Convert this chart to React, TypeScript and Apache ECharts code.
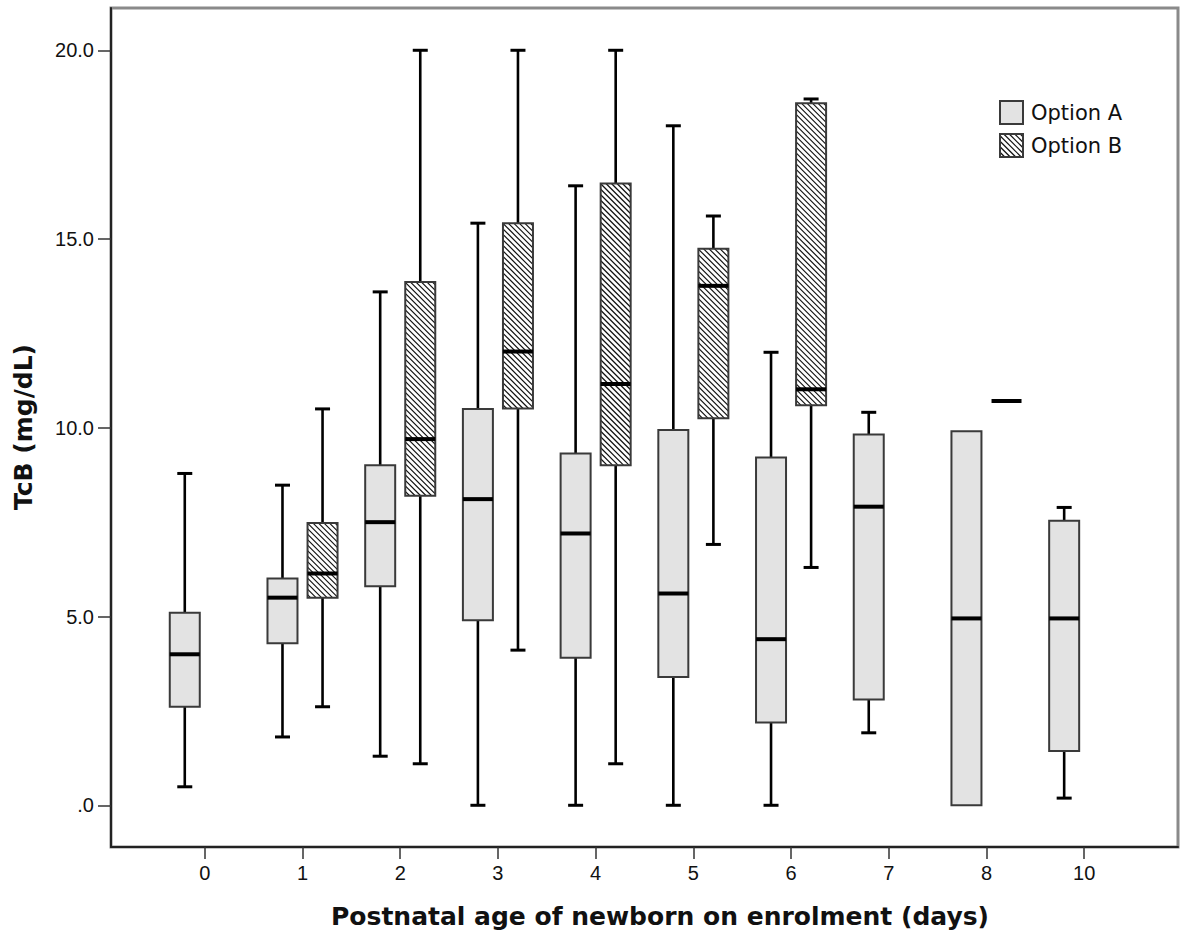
import React, { useEffect, useRef } from "react";
import * as echarts from "echarts";

// ---- data ----
const categories = ["0", "1", "2", "3", "4", "5", "6", "7", "8", "10"];
const seriesNames = ["Option A", "Option B"];
// [min whisker, Q1, median, Q3, max whisker]; null = no box
const optionA: (number[] | null)[] = [
  [0.49, 2.61, 4.0, 5.1, 8.79],
  [1.81, 4.29, 5.5, 6.01, 8.48],
  [1.3, 5.8, 7.5, 9.01, 13.6],
  [0.0, 4.9, 8.11, 10.5, 15.42],
  [0.0, 3.91, 7.2, 9.32, 16.41],
  [0.0, 3.4, 5.61, 9.94, 18.0],
  [0.0, 2.19, 4.4, 9.21, 12.0],
  [1.92, 2.8, 7.91, 9.82, 10.41],
  [0.0, 0.0, 4.95, 9.91, 9.91],
  [0.19, 1.44, 4.95, 7.54, 7.89],
];
const optionB: (number[] | null)[] = [
  null,
  [2.61, 5.5, 6.14, 7.48, 10.5],
  [1.1, 8.2, 9.7, 13.86, 20.0],
  [4.11, 10.51, 12.02, 15.42, 20.0],
  [1.1, 9.01, 11.16, 16.47, 20.0],
  [6.91, 10.25, 13.76, 14.74, 15.61],
  [6.3, 10.6, 11.02, 18.6, 18.71],
  null,
  [10.71, 10.71, 10.71, 10.71, 10.71],
  null,
];
const yTicks = [0, 5, 10, 15, 20];
const xTitle = "Postnatal age of newborn on enrolment (days)";
const yTitle = "TcB (mg/dL)";

const BOX_HALF = 15;
const CAP_HALF = 7.5;
const HATCH_STEP = 5.5;
const FILL_A = "#e3e3e3";
const BOX_STROKE = "#3a3a3a";

function hatchLines(x0: number, y0: number, w: number, h: number) {
  const out: any[] = [];
  // lines y - x = c (down-right diagonal)
  const cMin = y0 - (x0 + w);
  const cMax = y0 + h - x0;
  for (let c = cMin + HATCH_STEP / 2; c < cMax; c += HATCH_STEP) {
    const xa = Math.max(x0, y0 - c);
    const xb = Math.min(x0 + w, y0 + h - c);
    if (xb - xa > 0.3) {
      out.push({
        type: "line",
        shape: { x1: xa, y1: xa + c, x2: xb, y2: xb + c },
        style: { stroke: "#111", lineWidth: 1.2 },
        silent: true,
      });
    }
  }
  return out;
}

function toData(arr: (number[] | null)[]) {
  const d: any[] = [];
  arr.forEach((v, i) => {
    if (v) d.push([i, ...v]);
  });
  return d;
}

function makeRenderItem(offset: number, hatched: boolean) {
  return (params: any, api: any) => {
    const x = api.value(0) + offset;
    const vals = [1, 2, 3, 4, 5].map((k) => api.value(k));
    const ys = vals.map((v) => api.coord([x, v])[1]);
    const cx = api.coord([x, vals[2]])[0];
    const [yMin, yQ1, yMed, yQ3, yMax] = ys;
    const children: any[] = [];
    const wStyle = { stroke: "#000", lineWidth: 2.6 };
    if (vals[4] > vals[3]) {
      children.push({ type: "line", shape: { x1: cx, y1: yQ3, x2: cx, y2: yMax }, style: wStyle });
      children.push({ type: "line", shape: { x1: cx - CAP_HALF, y1: yMax, x2: cx + CAP_HALF, y2: yMax }, style: { stroke: "#000", lineWidth: 3 } });
    }
    if (vals[0] < vals[1]) {
      children.push({ type: "line", shape: { x1: cx, y1: yQ1, x2: cx, y2: yMin }, style: wStyle });
      children.push({ type: "line", shape: { x1: cx - CAP_HALF, y1: yMin, x2: cx + CAP_HALF, y2: yMin }, style: { stroke: "#000", lineWidth: 3 } });
    }
    const h = yQ1 - yQ3;
    if (h > 0.5) {
      const rx = cx - BOX_HALF;
      children.push({
        type: "rect",
        shape: { x: rx, y: yQ3, width: BOX_HALF * 2, height: h },
        style: { fill: hatched ? "#fff" : FILL_A, stroke: "none" },
      });
      if (hatched) children.push(...hatchLines(rx, yQ3, BOX_HALF * 2, h));
      children.push({
        type: "rect",
        shape: { x: rx, y: yQ3, width: BOX_HALF * 2, height: h },
        style: { fill: "none", stroke: BOX_STROKE, lineWidth: 2 },
      });
    }
    children.push({
      type: "line",
      shape: { x1: cx - BOX_HALF, y1: yMed, x2: cx + BOX_HALF, y2: yMed },
      style: { stroke: "#000", lineWidth: 4 },
    });
    return { type: "group", children };
  };
}

export default function App() {
  const ref = useRef<HTMLDivElement>(null);
  useEffect(() => {
    if (!ref.current) return;
    const chart = echarts.init(ref.current, undefined, { renderer: "svg" });
    const legendX = 1000;
    const legendY = [101, 134];
    const legendGraphic: any[] = [
      {
        type: "rect",
        shape: { x: legendX, y: legendY[0], width: 23, height: 23 },
        style: { fill: FILL_A, stroke: BOX_STROKE, lineWidth: 2 },
      },
      {
        type: "text",
        x: legendX + 31,
        y: legendY[0] + 12,
        style: { text: seriesNames[0], fontFamily: "DejaVu Sans", fontSize: 21, fill: "#111", verticalAlign: "middle" },
      },
      {
        type: "rect",
        shape: { x: legendX, y: legendY[1], width: 23, height: 23 },
        style: { fill: "#fff", stroke: "none" },
      },
      ...hatchLines(legendX, legendY[1], 23, 23),
      {
        type: "rect",
        shape: { x: legendX, y: legendY[1], width: 23, height: 23 },
        style: { fill: "none", stroke: BOX_STROKE, lineWidth: 2 },
      },
      {
        type: "text",
        x: legendX + 31,
        y: legendY[1] + 12,
        style: { text: seriesNames[1], fontFamily: "DejaVu Sans", fontSize: 21, fill: "#111", verticalAlign: "middle" },
      },
      {
        type: "text",
        x: 660,
        y: 916,
        style: { text: xTitle, fontFamily: "DejaVu Sans", fontWeight: "bold", fontSize: 25, fill: "#111", align: "center", verticalAlign: "middle" },
      },
      {
        type: "text",
        x: 23,
        y: 427,
        rotation: Math.PI / 2,
        style: { text: yTitle, fontFamily: "DejaVu Sans", fontWeight: "bold", fontSize: 25, fill: "#111", align: "center", verticalAlign: "middle" },
      },
    ];
    chart.setOption({
      animation: false,
      backgroundColor: "#fff",
      grid: {
        left: 111,
        right: 4,
        top: 8,
        bottom: 87,
        show: true,
        borderColor: "#8a8a8a",
        borderWidth: 3,
        backgroundColor: "transparent",
      },
      xAxis: {
        type: "value",
        min: -0.96,
        max: 9.96,
        splitLine: { show: false },
        axisLine: { show: true, onZero: false, lineStyle: { color: "#222", width: 2 } },
        axisTick: { show: true, length: 12, customValues: categories.map((_, i) => i), lineStyle: { color: "#333", width: 1.5 } },
        axisLabel: {
          customValues: categories.map((_, i) => i),
          formatter: (v: number) => categories[Math.round(v)] ?? "",
          margin: 16,
          fontFamily: "Liberation Sans",
          fontSize: 20,
          color: "#111",
        },
      },
      yAxis: {
        type: "value",
        min: -1.105,
        max: 21.12,
        splitLine: { show: false },
        axisLine: { show: true, onZero: false, lineStyle: { color: "#222", width: 2 } },
        axisTick: { show: true, length: 13, customValues: yTicks, lineStyle: { color: "#333", width: 1.5 } },
        axisLabel: {
          customValues: yTicks,
          formatter: (v: number) => (v === 0 ? ".0" : v.toFixed(1)),
          margin: 17,
          fontFamily: "Liberation Sans",
          fontSize: 20,
          color: "#111",
        },
      },
      series: [
        {
          name: seriesNames[0],
          type: "custom",
          renderItem: makeRenderItem(-0.205, false),
          data: toData(optionA),
          encode: { x: 0, y: [1, 2, 3, 4, 5] },
          silent: true,
        },
        {
          name: seriesNames[1],
          type: "custom",
          renderItem: makeRenderItem(0.205, true),
          data: toData(optionB),
          encode: { x: 0, y: [1, 2, 3, 4, 5] },
          silent: true,
        },
      ],
      graphic: legendGraphic,
    });
    return () => chart.dispose();
  }, []);
  return (
    <div
      ref={ref}
      style={{ position: "absolute", left: 0, top: 0, width: 1182, height: 934 }}
    />
  );
}
